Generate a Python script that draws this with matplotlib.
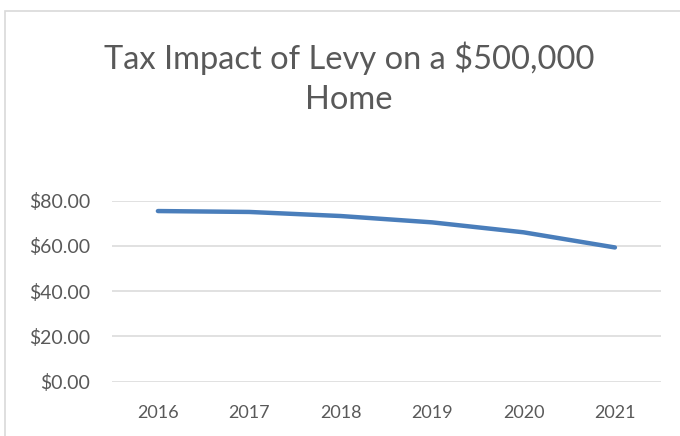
import matplotlib.pyplot as plt
from matplotlib.patches import Rectangle

years = ['2016', '2017', '2018', '2019', '2020', '2021']
tax_impact = [75.4, 75.0, 73.2, 70.4, 66.0, 59.3]
y_ticks = [0, 20, 40, 60, 80]

plt.rcParams['font.family'] = ['Lato', 'DejaVu Sans']

fig = plt.figure(figsize=(6.8, 4.36), dpi=100)
ax = fig.add_axes([0.165, 0.1248, 0.8065, 0.415])

x = range(len(years))
ax.plot(x, tax_impact, color='#4A7EBB', linewidth=3.2, solid_capstyle='round',
        solid_joinstyle='round', zorder=3)

ax.set_xlim(-0.5, len(years) - 0.5)
ax.set_ylim(0, 80)
ax.set_yticks(y_ticks)
ax.set_yticklabels([f'${v:.2f}' for v in y_ticks])
ax.set_xticks(list(x))
ax.set_xticklabels(years)
ax.grid(axis='y', color='#D9D9D9', linewidth=1.1)
ax.set_axisbelow(True)
for s in ax.spines.values():
    s.set_visible(False)
ax.tick_params(axis='x', length=0, labelsize=13, colors='#595959', pad=17)
ax.tick_params(axis='y', length=0, labelsize=14, colors='#595959', pad=16)

fig.text(0.513, 0.82, 'Tax Impact of Levy on a $500,000\nHome', ha='center', va='center',
         fontsize=23.5, color='#595959', linespacing=1.4)

# chart border
fig.patches.append(Rectangle((5 / 680, -0.1), 1.2, 1 - 11 / 436 + 0.1,
                             transform=fig.transFigure, fill=False,
                             edgecolor='#D9D9D9', linewidth=1.2))

fig.savefig('out.png', dpi=100)
